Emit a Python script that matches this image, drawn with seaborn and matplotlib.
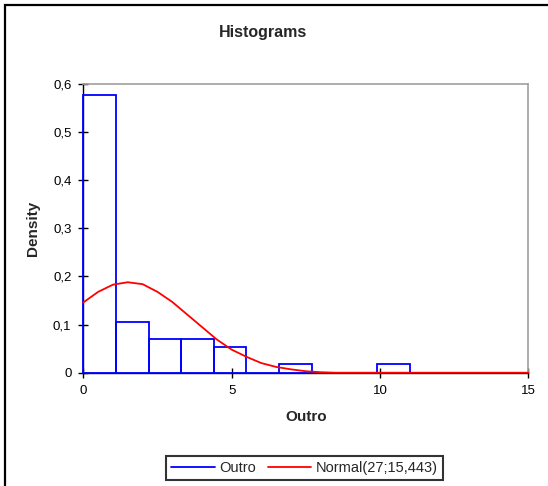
import numpy as np
import pandas as pd
import seaborn as sns
import matplotlib
matplotlib.use("Agg")
import matplotlib.pyplot as plt
from matplotlib.lines import Line2D
from matplotlib.patches import Rectangle

# Histogram of "Outro": bin edges and observation counts per bin
bin_edges = [0.0, 1.1, 2.2, 3.3, 4.4, 5.5, 6.6, 7.7, 8.8, 9.9, 11.0]
bin_counts = [33, 6, 4, 4, 3, 0, 1, 0, 0, 1]

# Fitted normal density curve
curve_x = [0.0, 0.5, 1.0, 1.5, 2.0, 2.5, 3.0, 3.5, 4.0, 4.5, 5.0, 5.5,
           6.0, 6.5, 7.0, 7.5, 8.0, 8.5, 9.0, 10.0, 12.0, 15.0]
curve_y = [0.146, 0.168, 0.183, 0.188, 0.184, 0.168, 0.147, 0.121, 0.095,
           0.069, 0.048, 0.033, 0.020, 0.012, 0.007, 0.003, 0.001, 0.0,
           0.0, 0.0, 0.0, 0.0]

x_ticks = [0, 5, 10, 15]
y_ticks = [0.0, 0.1, 0.2, 0.3, 0.4, 0.5, 0.6]
y_tick_labels = ["0", "0,1", "0,2", "0,3", "0,4", "0,5", "0,6"]

series_label = "Outro"
curve_label = "Normal(27;15,443)"
title = "Histograms"
x_label = "Outro"
y_label = "Density"

sns.set_theme(style="white")
plt.rcParams["font.family"] = ["Liberation Sans", "DejaVu Sans"]

mids = [(a + b) / 2 for a, b in zip(bin_edges[:-1], bin_edges[1:])]
hist_df = pd.DataFrame({"value": mids, "count": bin_counts})
curve_df = pd.DataFrame({"x": curve_x, "y": curve_y})

fig = plt.figure(figsize=(5.48, 4.86), dpi=100)
ax = fig.add_axes([83.3 / 548, 1 - 372.7 / 486, 445 / 548, (372.7 - 84) / 486])

sns.histplot(data=hist_df, x="value", weights="count", bins=bin_edges,
             stat="density", fill=False, element="bars",
             color="#0000ff", linewidth=1.3, ax=ax)
for p in ax.patches:
    p.set_clip_on(False)
    p.set_zorder(2.6)

sns.lineplot(data=curve_df, x="x", y="y", color="#ff0000", linewidth=1.3,
             ax=ax, zorder=3)
for ln in ax.lines:
    ln.set_clip_on(False)

ax.set_xlim(0, 15)
ax.set_ylim(0, 0.6)
ax.set_xticks(x_ticks)
ax.set_xticklabels([str(t) for t in x_ticks])
ax.set_yticks(y_ticks)
ax.set_yticklabels(y_tick_labels)
ax.tick_params(axis="both", direction="inout", length=7, width=1,
               color="black", labelsize=9.5, labelcolor="black", pad=5)
ax.tick_params(axis="both", left=True, bottom=True)

for side in ("left", "bottom"):
    ax.spines[side].set_color("black")
    ax.spines[side].set_linewidth(1.0)
for side in ("top", "right"):
    ax.spines[side].set_color("#a0a0a0")
    ax.spines[side].set_linewidth(1.2)

ax.set_xlabel(x_label, fontsize=11, fontweight="bold", labelpad=10)
ax.set_ylabel(y_label, fontsize=11, fontweight="bold", labelpad=9)
fig.text(263 / 548, 1 - 33 / 486, title, ha="center", va="center",
         fontsize=11.5, fontweight="bold")

handles = [Line2D([], [], color="#0000ff", linewidth=1.3),
           Line2D([], [], color="#ff0000", linewidth=1.3)]
leg = fig.legend(handles, [series_label, curve_label], loc="center",
                 bbox_to_anchor=(304.5 / 548, 1 - 468 / 486), ncol=2,
                 frameon=True, fancybox=False, fontsize=10.5,
                 handlelength=3.0, handletextpad=0.3, columnspacing=0.8,
                 borderpad=0.35, borderaxespad=0)
leg.get_frame().set_edgecolor("black")
leg.get_frame().set_linewidth(1.5)

# outer chart frame
fig.patches.append(Rectangle((4.5 / 548, -0.05), 1.2, 1 - 5.5 / 486 + 0.05,
                             transform=fig.transFigure, fill=False,
                             edgecolor="black", linewidth=1.6))

fig.savefig("out.png", dpi=100, facecolor="white")
